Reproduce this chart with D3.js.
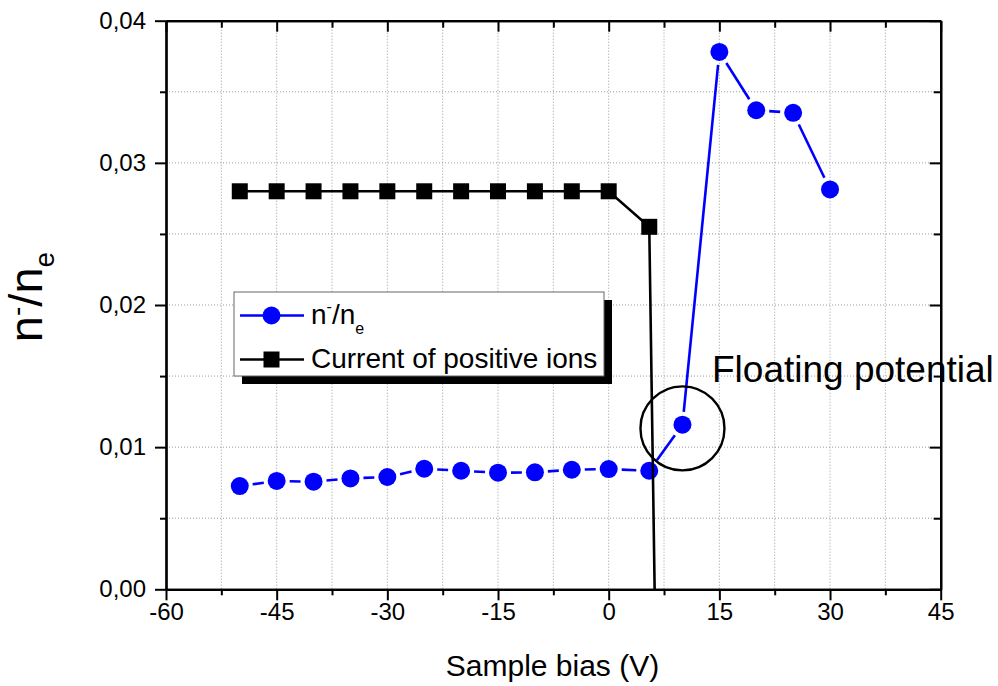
<!DOCTYPE html>
<html>
<head>
<meta charset="utf-8">
<script src="https://cdn.jsdelivr.net/npm/d3@7"></script>
<style>
  html, body { margin: 0; padding: 0; background: #fff; }
  svg { display: block; font-family: "Liberation Sans", Arial, sans-serif; }
</style>
</head>
<body>
<svg id="chart" width="998" height="686"></svg>
<script>
// Sample bias (V) for each measurement
const biasRatio = [-50, -45, -40, -35, -30, -25, -20, -15, -10, -5, 0, 5.5, 10, 15, 20, 25, 30];
// Negative ion fraction n-/ne
const ratioValues = [0.00726, 0.00762, 0.00757, 0.0078, 0.0079, 0.00848, 0.00834, 0.0082, 0.00823,
                     0.00841, 0.00846, 0.00834, 0.01158, 0.0378, 0.0337, 0.03352, 0.02813];
// Positive ion current (scaled), last point runs off below the axis
const biasCurrent = [-50, -45, -40, -35, -30, -25, -20, -15, -10, -5, 0, 5.5, 6.8];
const currentValues = [0.028, 0.028, 0.028, 0.028, 0.028, 0.028, 0.028, 0.028, 0.028, 0.028, 0.028, 0.0255, -0.02];
// Axis ticks
const xMajorTicks = [-60, -45, -30, -15, 0, 15, 30, 45];
const xMinorTicks = [-52.5, -37.5, -22.5, -7.5, 7.5, 22.5, 37.5];
const yMajorTicks = [0, 0.01, 0.02, 0.03, 0.04];
const yMinorTicks = [0.005, 0.015, 0.025, 0.035];
// Floating potential marker (centre in data units)
const floatingCentre = [10, 0.01132];
const seriesNames = ["n-/ne", "Current of positive ions"];

const svg = d3.select("#chart");
const pLeft = 166, pRight = 940.7, pTop = 20.7, pBottom = 589.3;

const x = d3.scaleLinear().domain([-60, 45]).range([pLeft, pRight]);
const y = d3.scaleLinear().domain([0, 0.04]).range([pBottom, pTop]);

const locale = d3.formatLocale({decimal: ",", thousands: ".", grouping: [3], currency: ["", ""], minus: "-"});
const fmtY = locale.format(".2f");
const fmtX = locale.format("d");

// grid
const grid = svg.append("g").attr("stroke", "#9a9a9a").attr("stroke-width", 1).attr("stroke-dasharray", "1,2");
[...xMajorTicks, ...xMinorTicks].filter(v => v > -60 && v < 45).forEach(v => {
  grid.append("line").attr("x1", x(v)).attr("x2", x(v)).attr("y1", pTop).attr("y2", pBottom);
});
[...yMajorTicks, ...yMinorTicks].filter(v => v > 0 && v < 0.04).forEach(v => {
  grid.append("line").attr("x1", pLeft).attr("x2", pRight).attr("y1", y(v)).attr("y2", y(v));
});

// clip to plot area
svg.append("clipPath").attr("id", "plotClip")
  .append("rect").attr("x", pLeft).attr("y", pTop).attr("width", pRight - pLeft).attr("height", pBottom - pTop);

const plot = svg.append("g").attr("clip-path", "url(#plotClip)");

// n-/ne series: segments with small gaps around the symbols
const r = 9, gap = 13;
const ratioPts = biasRatio.map((b, i) => [x(b), y(ratioValues[i])]);
const segs = d3.pairs(ratioPts).map(([p, q]) => {
  const dx = q[0] - p[0], dy = q[1] - p[1], L = Math.hypot(dx, dy);
  const ux = dx / L, uy = dy / L;
  return [p[0] + ux * gap, p[1] + uy * gap, q[0] - ux * gap, q[1] - uy * gap, L];
}).filter(s => s[4] > 2 * gap);
plot.append("g").selectAll("line").data(segs).join("line")
  .attr("x1", d => d[0]).attr("y1", d => d[1]).attr("x2", d => d[2]).attr("y2", d => d[3])
  .attr("stroke", "#0000ff").attr("stroke-width", 2.6);
plot.append("g").selectAll("circle").data(ratioPts).join("circle")
  .attr("cx", d => d[0]).attr("cy", d => d[1]).attr("r", r).attr("fill", "#0000ff");

// current series
const line = d3.line().x(d => x(d[0])).y(d => y(d[1]));
const curPts = biasCurrent.map((b, i) => [b, currentValues[i]]);
plot.append("path").datum(curPts).attr("d", line)
  .attr("fill", "none").attr("stroke", "#000").attr("stroke-width", 2.6);
const sq = 16;
plot.append("g").selectAll("rect").data(curPts.filter(d => d[1] >= 0)).join("rect")
  .attr("x", d => x(d[0]) - sq / 2).attr("y", d => y(d[1]) - sq / 2)
  .attr("width", sq).attr("height", sq).attr("fill", "#000");

// axes
function styleAxis(g) {
  g.selectAll("path.domain").attr("stroke", "#000").attr("stroke-width", 2.2);
  g.selectAll(".tick line").attr("stroke", "#000").attr("stroke-width", 2);
  g.selectAll(".tick text").attr("fill", "#000").attr("font-size", 24)
    .attr("font-family", "'Liberation Sans', Arial, sans-serif");
}
svg.append("g").attr("transform", `translate(0,${pBottom})`)
  .call(d3.axisBottom(x).tickValues(xMinorTicks).tickSize(6).tickSizeOuter(0).tickFormat(""))
  .call(styleAxis);
svg.append("g").attr("transform", `translate(0,${pBottom})`)
  .call(d3.axisBottom(x).tickValues(xMajorTicks).tickSize(11).tickSizeOuter(0).tickPadding(3).tickFormat(fmtX))
  .call(styleAxis);
svg.append("g").attr("transform", `translate(0,${pTop})`)
  .call(d3.axisTop(x).tickValues(xMinorTicks).tickSize(-7).tickSizeOuter(0).tickFormat(""))
  .call(styleAxis);
svg.append("g").attr("transform", `translate(0,${pTop})`)
  .call(d3.axisTop(x).tickValues(xMajorTicks).tickSize(-11).tickSizeOuter(0).tickFormat(""))
  .call(styleAxis);
svg.append("g").attr("transform", `translate(${pLeft},0)`)
  .call(d3.axisLeft(y).tickValues(yMinorTicks).tickSize(6).tickSizeOuter(0).tickFormat(""))
  .call(styleAxis);
svg.append("g").attr("transform", `translate(${pLeft},0)`)
  .call(d3.axisLeft(y).tickValues(yMajorTicks).tickSize(11).tickSizeOuter(0).tickPadding(9).tickFormat(fmtY))
  .call(styleAxis);
svg.append("g").attr("transform", `translate(${pRight},0)`)
  .call(d3.axisRight(y).tickValues(yMinorTicks).tickSize(-7).tickSizeOuter(0).tickFormat(""))
  .call(styleAxis);
svg.append("g").attr("transform", `translate(${pRight},0)`)
  .call(d3.axisRight(y).tickValues(yMajorTicks).tickSize(-11).tickSizeOuter(0).tickFormat(""))
  .call(styleAxis);

// axis titles
svg.append("text").attr("x", (445 + 660) / 2).attr("y", 676)
  .attr("text-anchor", "middle").attr("font-size", 30).text("Sample bias (V)");

const yTitle = svg.append("text").attr("transform", "translate(42,297) rotate(-90)")
  .attr("text-anchor", "middle").attr("font-size", 47);
yTitle.append("tspan").text("n");
yTitle.append("tspan").attr("font-size", 28).attr("dy", -16).text("-");
yTitle.append("tspan").attr("dy", 16).text("/n");
yTitle.append("tspan").attr("font-size", 28).attr("dy", 12).text("e");

// floating potential annotation
svg.append("circle").attr("cx", x(floatingCentre[0])).attr("cy", y(floatingCentre[1])).attr("r", 42)
  .attr("fill", "none").attr("stroke", "#000").attr("stroke-width", 2.4);
svg.append("text").attr("x", 712).attr("y", 382).attr("font-size", 37).text("Floating potential");

// legend
const lg = svg.append("g");
lg.append("rect").attr("x", 242).attr("y", 300).attr("width", 370).attr("height", 84).attr("fill", "#000");
lg.append("rect").attr("x", 234).attr("y", 292).attr("width", 370).attr("height", 84)
  .attr("fill", "#fff").attr("stroke", "#666").attr("stroke-width", 1);
lg.append("line").attr("x1", 240).attr("x2", 304).attr("y1", 315.5).attr("y2", 315.5)
  .attr("stroke", "#0000ff").attr("stroke-width", 2.6);
lg.append("circle").attr("cx", 271.5).attr("cy", 315.5).attr("r", r).attr("fill", "#0000ff");
const t1 = lg.append("text").attr("x", 311).attr("y", 324).attr("font-size", 28);
t1.append("tspan").text("n");
t1.append("tspan").attr("font-size", 16).attr("dy", -12).text("-");
t1.append("tspan").attr("dy", 12).text("/n");
t1.append("tspan").attr("font-size", 16).attr("dy", 10).text("e");
lg.append("line").attr("x1", 240).attr("x2", 304).attr("y1", 359.5).attr("y2", 359.5)
  .attr("stroke", "#000").attr("stroke-width", 2.6);
lg.append("rect").attr("x", 263.5).attr("y", 351.5).attr("width", sq).attr("height", sq).attr("fill", "#000");
lg.append("text").attr("x", 311).attr("y", 367.5).attr("font-size", 28).text(seriesNames[1]);
</script>
</body>
</html>
